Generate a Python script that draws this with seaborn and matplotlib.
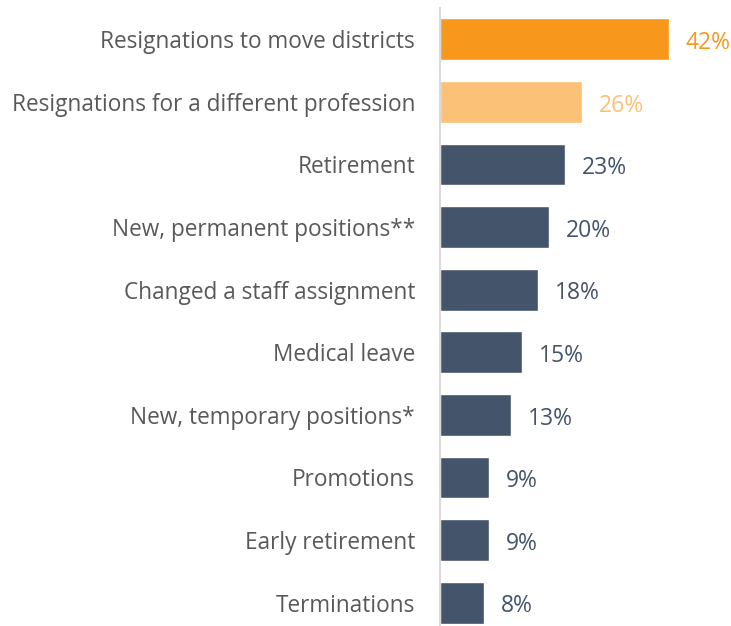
import pandas as pd
import matplotlib
matplotlib.use("Agg")
import matplotlib.pyplot as plt
import seaborn as sns

categories = [
    "Resignations to move districts",
    "Resignations for a different profession",
    "Retirement",
    "New, permanent positions**",
    "Changed a staff assignment",
    "Medical leave",
    "New, temporary positions*",
    "Promotions",
    "Early retirement",
    "Terminations",
]
values = [42, 26, 23, 20, 18, 15, 13, 9, 9, 8]
colors = ["#F7981D", "#FBC177"] + ["#44546A"] * 8

sns.set_style("white")
plt.rcParams["font.family"] = ["Open Sans", "DejaVu Sans"]

df = pd.DataFrame({"cat": categories, "val": values})

fig = plt.figure(figsize=(7.31, 6.26), dpi=100)
ax = fig.add_axes([440 / 731, -8 / 626, 291 / 731, 1.0])

sns.barplot(data=df, x="val", y="cat", hue="cat", palette=colors,
            legend=False, orient="h", width=0.67, ax=ax, saturation=1)

# value labels in the bar colour
for i, (v, c) in enumerate(zip(values, colors)):
    ax.text(v + 3.1, i + 0.06, f"{v}%", va="center", ha="left", fontsize=16.5, color=c)

ax.set_xlim(0, 53.4)
ax.set_ylim(9.5, -0.5)
ax.set_xlabel("")
ax.set_ylabel("")
ax.set_xticks([])
ax.tick_params(axis="y", length=0, pad=18, labelsize=16.3, labelcolor="#595959")
for s in ["top", "right", "bottom"]:
    ax.spines[s].set_visible(False)
ax.spines["left"].set_color("#D9D9D9")
ax.spines["left"].set_linewidth(1.5)

fig.savefig("out.png", dpi=100)
